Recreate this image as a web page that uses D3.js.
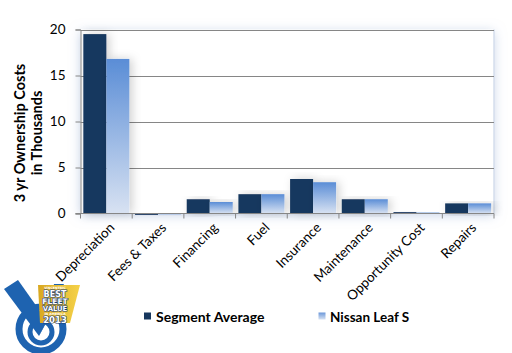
<!DOCTYPE html>
<html><head><meta charset="utf-8">
<script src="https://cdn.jsdelivr.net/npm/d3@7"></script>
<style>body{margin:0;background:#fff;}svg{display:block;}</style>
</head><body>
<script>
const categories = ["Depreciation","Fees & Taxes","Financing","Fuel","Insurance","Maintenance","Opportunity Cost","Repairs"];
const segmentAverage = [19.5, -0.15, 1.55, 2.1, 3.75, 1.55, 0.15, 1.1];
const nissanLeafS = [16.8, -0.15, 1.25, 2.1, 3.4, 1.55, 0.1, 1.1];
const seriesNames = ["Segment Average", "Nissan Leaf S"];
const yTicks = [0, 5, 10, 15, 20];

const W = 512, H = 353;
const font = "Lato, 'Open Sans', sans-serif";
const svg = d3.select("body").append("svg").attr("width", W).attr("height", H);
const defs = svg.append("defs");

const g1 = defs.append("linearGradient").attr("id","leaf").attr("x1",0).attr("y1",0).attr("x2",0).attr("y2",1);
g1.append("stop").attr("offset","0%").attr("stop-color","#5A8DD6");
g1.append("stop").attr("offset","100%").attr("stop-color","#D8E2F2");
const g2 = defs.append("linearGradient").attr("id","leafLeg").attr("x1",0).attr("y1",0).attr("x2",0).attr("y2",1);
g2.append("stop").attr("offset","0%").attr("stop-color","#6C98DA");
g2.append("stop").attr("offset","100%").attr("stop-color","#D8E2F2");
const g3 = defs.append("linearGradient").attr("id","badge").attr("x1",0).attr("y1",0).attr("x2",1).attr("y2",0);
g3.append("stop").attr("offset","0%").attr("stop-color","#D9A820");
g3.append("stop").attr("offset","100%").attr("stop-color","#F5D24A");

const fs = defs.append("filter").attr("id","plotShadow").attr("x","-10%").attr("y","-10%").attr("width","120%").attr("height","125%");
fs.append("feDropShadow").attr("dx",0).attr("dy",2).attr("stdDeviation",6).attr("flood-color","#9DB3D8").attr("flood-opacity",0.55);
const fb = defs.append("filter").attr("id","barShadow").attr("x","-50%").attr("y","-20%").attr("width","200%").attr("height","140%");
fb.append("feDropShadow").attr("dx",3).attr("dy",0).attr("stdDeviation",5).attr("flood-color","#000").attr("flood-opacity",0.18);

const pLeft = 80.5, pRight = 494, pTop = 29.5, pBottom = 213.5;
const x = d3.scaleBand().domain(categories).range([pLeft, pRight]).paddingInner(0.11).paddingOuter(0.055);
const xc = d3.scaleBand().domain(categories).range([pLeft, pRight]);
const x1 = d3.scaleBand().domain(seriesNames).range([0, x.bandwidth()]);
const y = d3.scaleLinear().domain([0, 20]).range([pBottom, pTop]);

// plot background with shadow
svg.append("rect").attr("x", pLeft).attr("y", pTop).attr("width", pRight-pLeft).attr("height", pBottom-pTop)
  .attr("fill","#fff").attr("filter","url(#plotShadow)");
svg.append("line").attr("x1", pRight).attr("x2", pRight).attr("y1", pTop).attr("y2", pBottom).attr("stroke","#D5DEEC").attr("stroke-width",1.5);

// gridlines
svg.append("g").selectAll("line").data(yTicks.filter(d=>d>0)).join("line")
  .attr("x1", pLeft).attr("x2", pRight).attr("y1", d=>Math.round(y(d))+0.5).attr("y2", d=>Math.round(y(d))+0.5)
  .attr("stroke","#868686").attr("stroke-width",1);

// bars
const groups = svg.append("g").selectAll("g").data(categories).join("g")
  .attr("transform", d=>`translate(${x(d)},0)`);
groups.append("rect").attr("x", x1(seriesNames[0])).attr("width", x1.bandwidth())
  .attr("y", (d,i)=>y(Math.max(0,segmentAverage[i]))).attr("height",(d,i)=>Math.abs(y(segmentAverage[i])-y(0)))
  .attr("fill","#17375E").attr("filter","url(#barShadow)");
groups.append("rect").attr("x", x1(seriesNames[1])).attr("width", x1.bandwidth())
  .attr("y", (d,i)=>y(Math.max(0,nissanLeafS[i]))).attr("height",(d,i)=>Math.abs(y(nissanLeafS[i])-y(0)))
  .attr("fill","url(#leaf)").attr("filter","url(#barShadow)");

// y axis
const yAxis = svg.append("g").attr("transform",`translate(${pLeft},0)`)
  .call(d3.axisLeft(y).tickValues(yTicks).tickSize(5).tickPadding(10));
yAxis.select(".domain").attr("stroke","#868686");
yAxis.selectAll(".tick line").attr("stroke","#868686");
yAxis.selectAll("text").attr("font-family",font).attr("font-size",13.5).attr("fill","#000");

// x axis
const xAxisG = svg.append("g").attr("transform",`translate(0,${pBottom})`);
xAxisG.append("line").attr("x1",pLeft-5).attr("x2",pRight).attr("y1",0).attr("y2",0).attr("stroke","#868686");
xAxisG.selectAll("line.t").data(categories.concat(["end"])).join("line").attr("class","t")
  .attr("x1",(d,i)=> pLeft + i*xc.bandwidth()).attr("x2",(d,i)=> pLeft + i*xc.bandwidth())
  .attr("y1",0).attr("y2",5).attr("stroke","#868686");
xAxisG.selectAll("text").data(categories).join("text")
  .attr("transform", d=>`translate(${xc(d)+xc.bandwidth()/2+9},${15}) rotate(-45)`)
  .attr("text-anchor","end").attr("font-family",font).attr("font-size",13.5).attr("fill","#000")
  .text(d=>d);

// y title
const yt = svg.append("text").attr("transform","translate(0,133) rotate(-90)")
  .attr("text-anchor","middle").attr("font-family",font).attr("font-weight","bold").attr("font-size",14.5).attr("fill","#000");
yt.append("tspan").attr("x",0).attr("y",25).text("3 yr Ownership Costs");
yt.append("tspan").attr("x",0).attr("y",42).text("in Thousands");

// legend
const leg = svg.append("g");
leg.append("rect").attr("x",144).attr("y",312.5).attr("width",7).attr("height",7).attr("fill","#17375E");
leg.append("text").attr("x",156).attr("y",322).attr("font-family",font).attr("font-weight","bold").attr("font-size",14).attr("fill","#000").text(seriesNames[0]);
leg.append("rect").attr("x",318.5).attr("y",312.5).attr("width",7).attr("height",7).attr("fill","url(#leafLeg)");
leg.append("text").attr("x",330).attr("y",322).attr("font-family",font).attr("font-weight","bold").attr("font-size",13.5).attr("fill","#000").text(seriesNames[1]);

// logo
const logo = svg.append("g");
const blue = "#1E63B0";
logo.append("circle").attr("cx",41).attr("cy",329).attr("r",22).attr("fill","none").attr("stroke",blue).attr("stroke-width",7);
logo.append("circle").attr("cx",41).attr("cy",332).attr("r",11).attr("fill","none").attr("stroke",blue).attr("stroke-width",5);
logo.append("path").attr("d","M4,289 L18,280 L47,321 L39,336 Z").attr("fill",blue);
logo.append("path").attr("d","M39,336 L47,321 L54,284 L64,284 Z").attr("fill",blue);
logo.append("path").attr("d","M38,285 L80,285 L70,323 L40,323 Z").attr("fill","url(#badge)");
const lt = logo.append("g").attr("font-family","'DejaVu Sans', sans-serif").attr("font-weight","bold").attr("fill","#fff")
  .attr("text-anchor","middle");
const badgeLines = [
  {t:"VINCENTRIC", y:289, s:3.2},
  {t:"BEST", y:296.5, s:8},
  {t:"FLEET", y:304, s:7.5},
  {t:"VALUE", y:311, s:6.8},
  {t:"IN AMERICA", y:315, s:3.2},
  {t:"2013", y:323, s:8.5}
];
lt.selectAll("text").data(badgeLines).join("text")
  .attr("x",55).attr("y",d=>d.y).attr("font-size",d=>d.s)
  .attr("stroke","#1A3F75").attr("stroke-width",d=>d.s>5?1.2:0).attr("paint-order","stroke")
  .text(d=>d.t);
</script>
</body></html>
